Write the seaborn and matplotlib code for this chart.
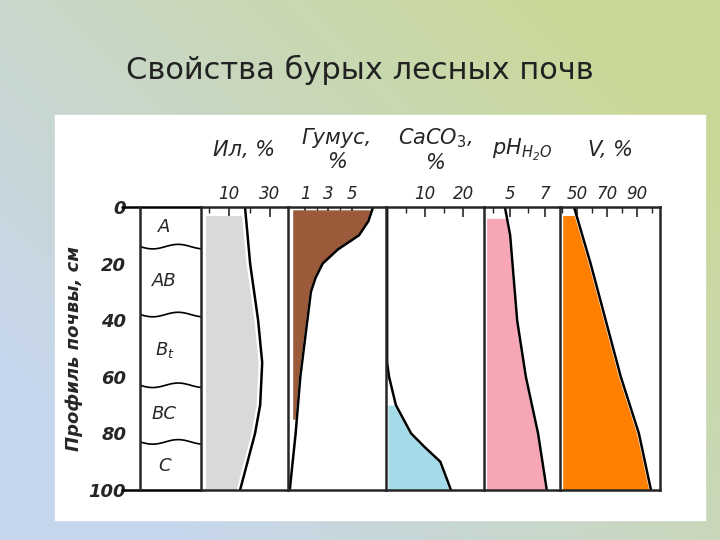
import numpy as np
import matplotlib
matplotlib.use("Agg")
import matplotlib.pyplot as plt
import seaborn as sns

sns.set_style("white")
plt.rcParams['font.family'] = ['DejaVu Sans']

depth_il = [0, 20, 40, 55, 70, 80, 100]
il = [17.8, 20.3, 24.2, 26.2, 25.2, 22.7, 15.4]
depth_hum = [0, 5, 10, 15, 20, 25, 30, 40, 50, 60, 75, 80, 100]
humus = [6.8, 6.4, 5.6, 3.8, 2.5, 1.9, 1.5, 1.2, 0.9, 0.6, 0.3, 0.2, -0.3]
depth_ca = [0, 55, 60, 70, 80, 85, 90, 100]
caco3 = [0.0, 0.0, 0.5, 2.3, 6.3, 10.0, 14.0, 16.8]
depth_ph = [0, 10, 40, 60, 80, 100]
ph = [4.7, 5.0, 5.4, 5.9, 6.6, 7.1]
depth_v = [0, 20, 40, 60, 80, 100]
v = [48, 59, 69, 79, 91, 99]
horizons = ["A", "AB", "Bt", "BC", "C"]
horizon_bounds = [0, 14, 38, 63, 83, 100]
depth_ticks = [0, 20, 40, 60, 80, 100]

W, H = 720, 540
fig = plt.figure(figsize=(7.2, 5.4), dpi=100)

bg = fig.add_axes([0, 0, 1, 1]); bg.set_axis_off()
xx, yy = np.meshgrid(np.linspace(0, 1, 200), np.linspace(0, 1, 150))
t = np.clip((xx * 0.8 + (1 - yy) * 0.6 - 0.2), 0, 1)
c1 = np.array([0.78, 0.84, 0.93]); c2 = np.array([0.79, 0.85, 0.60])
img = c1[None, None, :] * (1 - t[..., None]) + c2[None, None, :] * t[..., None]
bg.imshow(img, extent=[0, 1, 0, 1], aspect='auto', origin='upper')
bg.add_patch(plt.Rectangle((55 / W, 1 - 520 / H), 650 / W, 405 / H, color='white'))
bg.set_xlim(0, 1); bg.set_ylim(0, 1)
fig.text(0.5, 1 - 70 / H, "Свойства бурых лесных почв", ha='center', va='center', fontsize=22, color='#222222')

y0 = 1 - 490 / H; yh = (490 - 207) / H
def px(x0, x1):
    return [x0 / W, y0, (x1 - x0) / W, yh]

lw = 1.8
fkw = dict(fontstyle='italic', fontweight='bold', fontsize=13)

axh = fig.add_axes(px(140, 201))
axh.set_xlim(0, 1); axh.set_ylim(100, 0)
for s in ['right', 'bottom', 'top']:
    axh.spines[s].set_visible(False)
axh.spines['left'].set_linewidth(lw)
axh.set_yticks(depth_ticks)
axh.set_yticklabels([str(d) for d in depth_ticks], **fkw)
axh.tick_params(axis='y', direction='out', length=8, width=1.5, pad=2)
axh.set_xticks([])
axh.set_ylabel("Профиль почвы, см", fontstyle='italic', fontweight='bold', fontsize=13, labelpad=4)
xs = np.linspace(0, 1, 50)
for b in horizon_bounds[1:-1]:
    axh.plot(xs, b + 0.8 * np.sin(xs * 2 * np.pi * 1.2), color='black', lw=1.2)
for i, name in enumerate(horizons):
    yc = (horizon_bounds[i] + horizon_bounds[i + 1]) / 2
    lab = name if name != "Bt" else "$\\mathit{B_t}$"
    axh.text(0.4, yc, lab, ha='center', va='center', fontstyle='italic', fontsize=13)
axh.plot([-0.3, 1], [0, 0], color='black', lw=lw, clip_on=False)
axh.plot([-0.3, 1], [100, 100], color='black', lw=lw, clip_on=False)

def panel(x0, x1, xlim, ticks, minors, title):
    ax = fig.add_axes(px(x0, x1))
    ax.patch.set_alpha(0)
    ax.set_xlim(*xlim); ax.set_ylim(100, 0)
    ax.xaxis.tick_top()
    ax.set_xticks(ticks)
    ax.set_xticks(minors, minor=True)
    ax.set_xticklabels([str(t) for t in ticks], fontstyle='italic', fontsize=12)
    ax.tick_params(axis='x', which='major', direction='in', length=7, width=1.2, pad=3)
    ax.tick_params(axis='x', which='minor', direction='in', length=4, width=1.0)
    ax.set_yticks([])
    ax.spines['right'].set_visible(False)
    for s in ['left', 'top', 'bottom']:
        ax.spines[s].set_linewidth(lw)
    fig.text((x0 + x1) / 2 / W, 1 - 150 / H, title, ha='center', va='center',
             fontstyle='italic', fontsize=15)
    return ax

def fill(ax, depths, vals, d0, d1, left, off, color):
    d = np.linspace(d0, d1, 200)
    xv = np.interp(d, depths, vals) - off
    ax.fill_betweenx(d, left, xv, color=color, lw=0)

a1 = panel(201, 288, (-3.7, 38.8), [10, 30], [0, 20], "Ил, %")
fill(a1, depth_il, il, 3, 100, -1.5, 2, '#d9d9d9')
a1.plot(il, depth_il, color='black', lw=lw)

a2 = panel(288, 386, (-0.45, 7.9), [1, 3, 5], [2, 4], "Гумус,\n%")
fill(a2, depth_hum, humus, 1, 75, -0.05, 0.15, '#9b5b3a')
a2.plot(humus, depth_hum, color='black', lw=lw)

a3 = panel(386, 484, (-0.3, 25.5), [10, 20], [5, 15], "CaCO$_3$,\n%")
fill(a3, depth_ca, caco3, 70, 100, 0.2, 0.5, '#a5dbe8')
a3.plot(caco3, depth_ca, color='black', lw=lw)

a4 = panel(484, 560, (3.5, 7.86), [5, 7], [4, 6], "pH$_{\\mathregular{H_2O}}$")
fill(a4, depth_ph, ph, 4, 100, 3.65, 0.1, '#f7a6b6')
a4.plot(ph, depth_ph, color='black', lw=lw)

a5 = panel(560, 660, (38.7, 105), [50, 70, 90], [40, 60, 80, 100], "V, %")
a5.spines['right'].set_visible(True); a5.spines['right'].set_linewidth(lw)
fill(a5, depth_v, v, 3, 100, 40.5, 1.5, '#ff8000')
a5.plot(v, depth_v, color='black', lw=lw)

fig.savefig("out.png", dpi=100)
